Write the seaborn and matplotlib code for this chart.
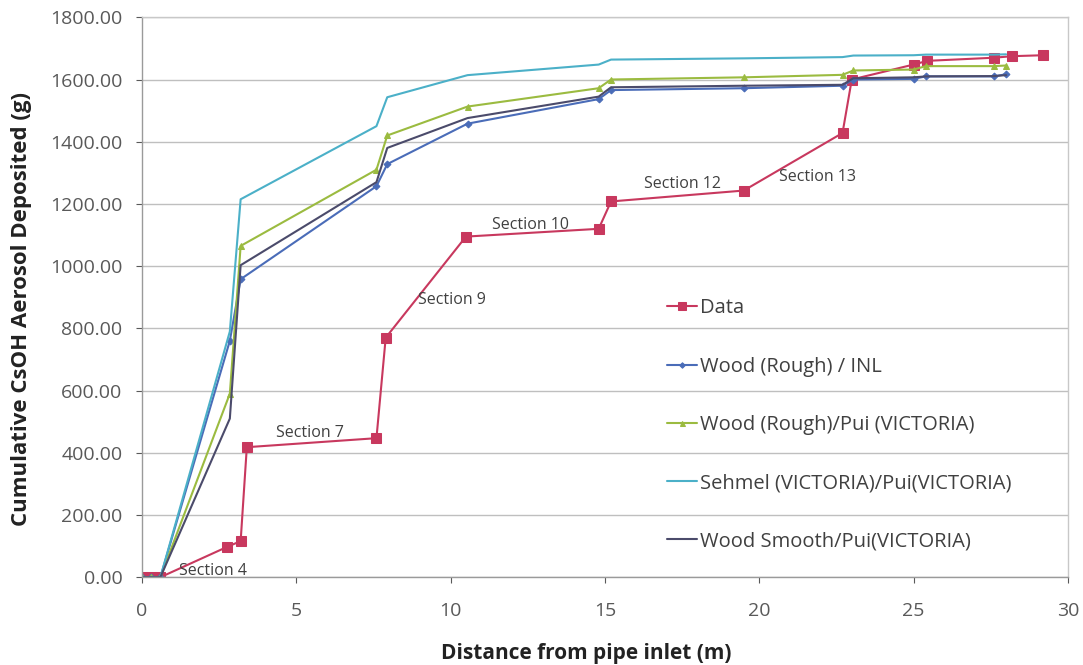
import matplotlib
matplotlib.use("Agg")
import matplotlib.pyplot as plt
import seaborn as sns
import pandas as pd

# ---- data ----
x_data = [0, 0.3, 0.6, 2.75, 3.2, 3.4, 7.6, 7.9, 10.5, 14.8, 15.2, 19.5, 22.7, 23.0, 25.0, 25.45, 27.6, 28.2, 29.2]
y_data = [0, 0, 0, 97, 116, 418, 447, 770, 1095, 1120, 1208, 1243, 1428, 1600, 1648, 1660, 1670, 1675, 1678]

x_model = [0, 0.3, 0.6, 2.85, 3.2, 7.6, 7.95, 10.55, 14.8, 15.2, 19.5, 22.7, 23.05, 25.0, 25.4, 27.6, 28.0]
y_inl = [0, 0, 0, 760, 958, 1257, 1328, 1458, 1537, 1566, 1572, 1580, 1600, 1602, 1610, 1610, 1617]
y_pui = [0, 0, 0, 590, 1065, 1310, 1420, 1513, 1572, 1600, 1607, 1615, 1629, 1632, 1643, 1643, 1645]
y_sehmel = [0, 0, 0, 790, 1215, 1450, 1543, 1614, 1648, 1664, 1668, 1672, 1677, 1678, 1680, 1680, 1681]
y_smooth = [0, 0, 0, 510, 1003, 1270, 1380, 1476, 1545, 1575, 1580, 1583, 1604, 1607, 1610, 1611, 1614]

labels = ["Data", "Wood (Rough) / INL", "Wood (Rough)/Pui (VICTORIA)",
          "Sehmel (VICTORIA)/Pui(VICTORIA)", "Wood Smooth/Pui(VICTORIA)"]

section_labels = ["Section 4", "Section 7", "Section 9", "Section 10", "Section 12", "Section 13"]
section_x = [2.3, 5.45, 10.05, 12.6, 17.5, 21.9]
section_y = [19, 464, 892, 1133, 1265, 1288]

x_ticks = [0, 5, 10, 15, 20, 25, 30]
y_ticks = [0, 200, 400, 600, 800, 1000, 1200, 1400, 1600, 1800]

# ---- style ----
sns.set_theme(style="white")
plt.rcParams['font.family'] = ['Open Sans', 'DejaVu Sans']

fig = plt.figure(figsize=(10.83, 6.65), dpi=100)
ax = fig.add_axes([0.131, 0.132, 0.855, 0.842])

colors = ["#c8385e", "#4a6cb8", "#9bbb40", "#4bb0c8", "#4b4b6b"]

df_data = pd.DataFrame({"x": x_data, "y": y_data})
sns.lineplot(data=df_data, x="x", y="y", ax=ax, sort=False, estimator=None,
             color=colors[0], lw=1.5, marker="s", markersize=6.5,
             markeredgecolor=colors[0], label=labels[0])

series = [(y_inl, "D", 3.5), (y_pui, "^", 4.5), (y_sehmel, None, 0), (y_smooth, None, 0)]
for i, (ys, mk, ms) in enumerate(series, start=1):
    d = pd.DataFrame({"x": x_model, "y": ys})
    kw = {}
    if mk:
        kw = dict(marker=mk, markersize=ms, markeredgecolor=colors[i])
    sns.lineplot(data=d, x="x", y="y", ax=ax, sort=False, estimator=None,
                 color=colors[i], lw=1.5, label=labels[i], **kw)

for t, sx, sy in zip(section_labels, section_x, section_y):
    ax.text(sx, sy, t, fontsize=11.5, color="#404040", ha="center", va="center")

ax.set_xlim(0, 30)
ax.set_ylim(0, 1800)
ax.set_xticks(x_ticks)
ax.set_yticks(y_ticks)
ax.set_yticklabels([f"{v:.2f}" for v in y_ticks])
ax.tick_params(axis="both", labelsize=14, colors="#595959", length=4, width=0.8,
               direction="out", left=True, bottom=True, pad=10)
ax.tick_params(axis="x", pad=14)
ax.grid(axis="y", color="#bfbfbf", lw=1)
for s in ax.spines.values():
    s.set_color("#c8c8c8")
    s.set_linewidth(1)
ax.spines["left"].set_color("#9a9a9a")
ax.spines["bottom"].set_color("#9a9a9a")

ax.set_xlabel("Distance from pipe inlet (m)", fontsize=15, fontweight="bold", color="#222222")
ax.set_ylabel("Cumulative CsOH Aerosol Deposited (g)", fontsize=16, fontweight="bold", color="#222222")
ax.xaxis.set_label_coords(0.48, -0.118)
ax.yaxis.set_label_coords(-0.119, 0.479)

leg = ax.legend(loc="center left", bbox_to_anchor=(0.548, 0.272), frameon=False,
                fontsize=14.5, labelspacing=1.9, handlelength=1.45, handletextpad=0.15,
                markerscale=0.8, labelcolor="#404040")

fig.savefig("out.png", dpi=100)
